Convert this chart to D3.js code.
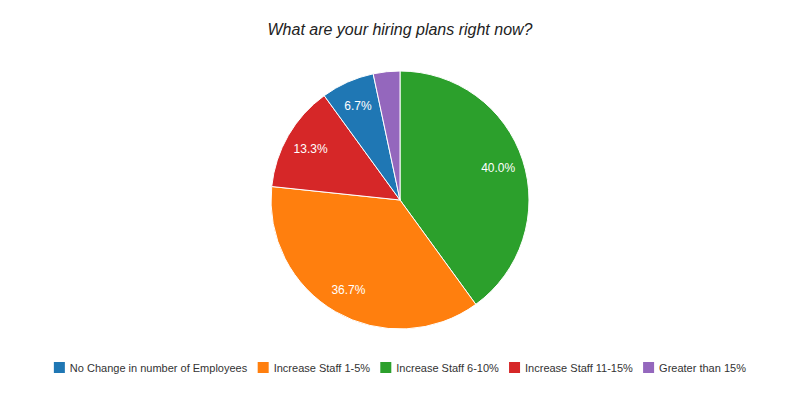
<!DOCTYPE html>
<html>
<head>
<meta charset="utf-8">
<script src="https://cdn.jsdelivr.net/npm/d3@7"></script>
<style>
  body { margin: 0; background: #fff; }
  text { font-family: "Liberation Sans", Arial, sans-serif; }
</style>
</head>
<body>
<svg width="800" height="400"></svg>
<script>
// data
const categories = ["No Change in number of Employees", "Increase Staff 1-5%", "Increase Staff 6-10%", "Increase Staff 11-15%", "Greater than 15%"];
const values = [2, 11, 12, 4, 1];
const colors = ["#1f77b4", "#ff7f0e", "#2ca02c", "#d62728", "#9467bd"];
// clockwise order of slices from 12 o'clock
const drawOrder = [2, 1, 3, 0, 4];

const svg = d3.select("svg");
const cx = 400, cy = 200, r = 129;

svg.append("text")
    .attr("x", 400).attr("y", 35)
    .attr("text-anchor", "middle")
    .style("font-size", "16px")
    .style("font-style", "italic")
    .attr("fill", "#222")
    .text("What are your hiring plans right now?");

const total = d3.sum(values);
const pie = d3.pie().sort(null).value(i => values[i]);
const arcs = pie(drawOrder);
const arc = d3.arc().innerRadius(0).outerRadius(r);
const labelArc = d3.arc().innerRadius(r * 0.8).outerRadius(r * 0.8);

const g = svg.append("g").attr("transform", `translate(${cx},${cy})`);

g.selectAll("path")
    .data(arcs)
    .enter().append("path")
    .attr("d", arc)
    .attr("fill", d => colors[d.data])
    .attr("stroke", "#fff")
    .attr("stroke-width", 1);

g.selectAll(".lbl")
    .data(arcs.filter(d => values[d.data] / total > 0.05))
    .enter().append("text")
    .attr("class", "lbl")
    .attr("transform", d => `translate(${labelArc.centroid(d)})`)
    .attr("text-anchor", "middle")
    .attr("dy", "0.35em")
    .attr("fill", "#fff")
    .style("font-size", "12px")
    .text(d => (values[d.data] / total * 100).toFixed(1) + "%");

// legend
const legend = svg.append("g").attr("transform", "translate(0,368)");
let x = 0;
const items = legend.selectAll("g")
    .data(categories)
    .enter().append("g");
items.append("rect")
    .attr("width", 11).attr("height", 11).attr("y", -6)
    .attr("fill", (d, i) => colors[i]);
items.append("text")
    .attr("x", 16).attr("dy", "0.35em")
    .style("font-size", "11px")
    .attr("fill", "#333")
    .text(d => d);
items.each(function () {
    const w = this.getBBox().width;
    d3.select(this).attr("transform", `translate(${x},0)`);
    x += w + 10;
});
const totalW = x - 10;
legend.attr("transform", `translate(${(800 - totalW) / 2},368)`);
</script>
</body>
</html>
